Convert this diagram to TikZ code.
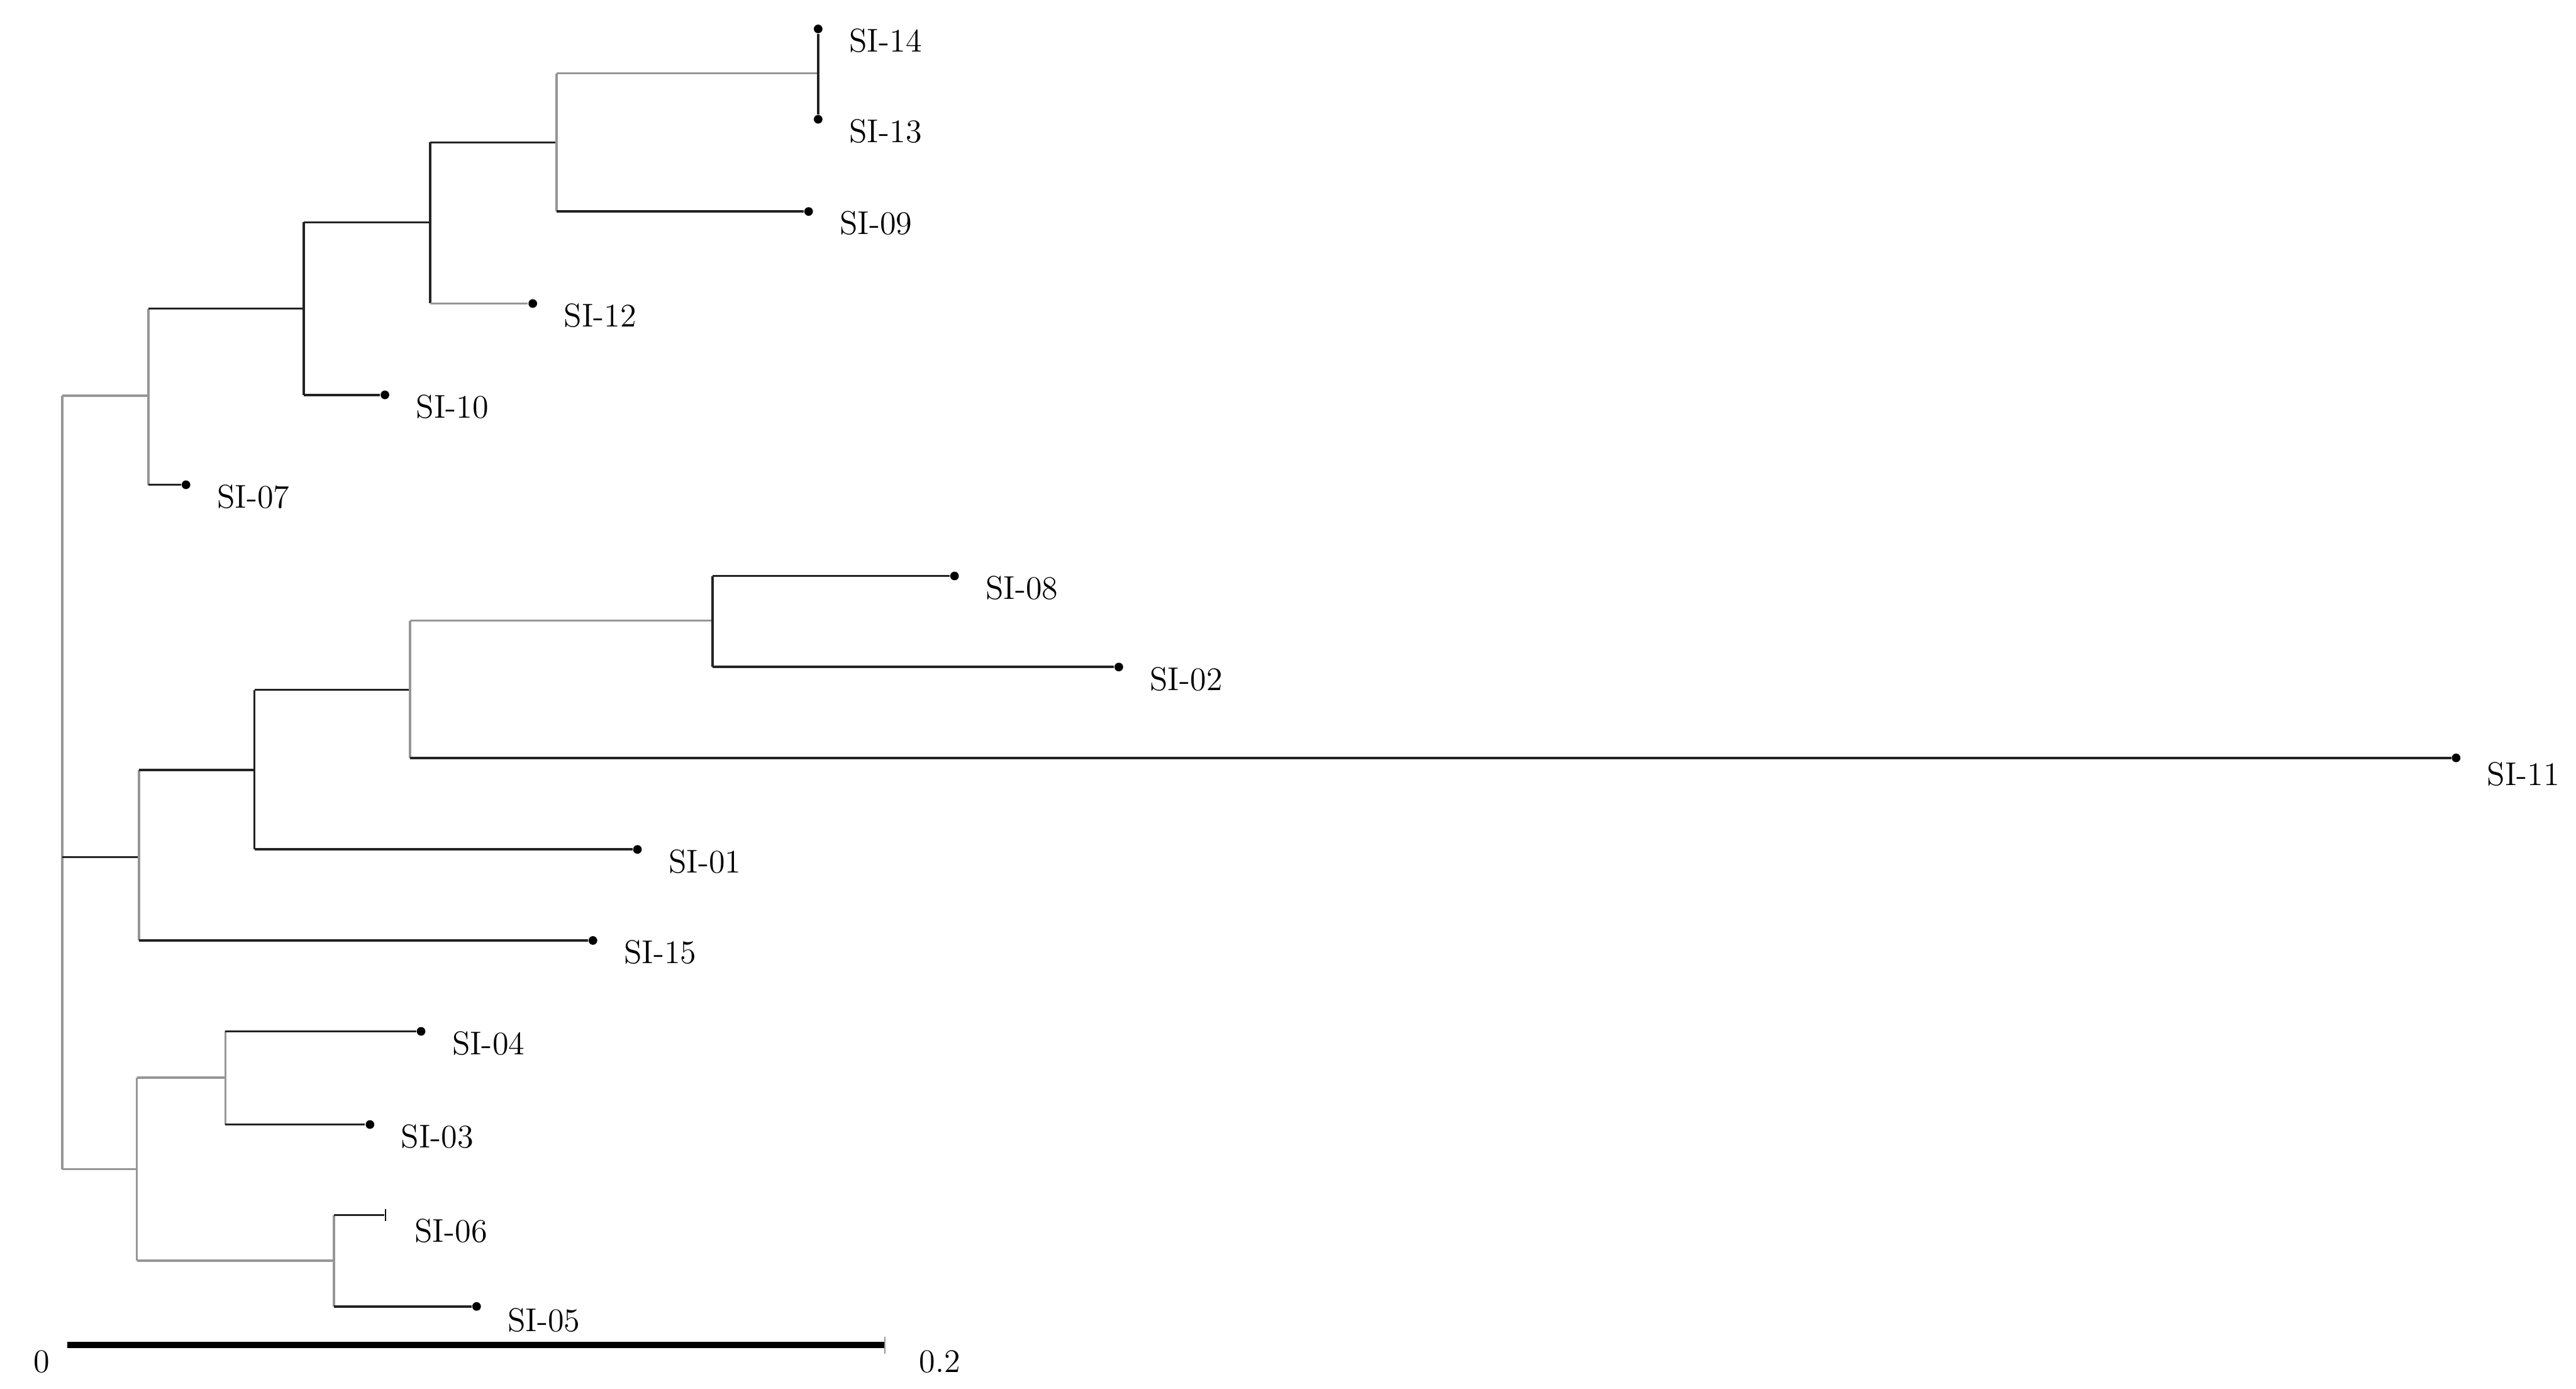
\documentclass[tikz,border=0pt]{standalone}
\usepackage{tikz}
\usetikzlibrary{positioning}
\definecolor{darkbr}{RGB}{35,35,35}
\definecolor{lightbr}{RGB}{150,150,150}

\begin{document}
\begin{tikzpicture}[
    x=0.02cm, y=-0.02cm,
    br/.style={draw=darkbr, line width=0.8pt},
    bl/.style={draw=lightbr, line width=0.8pt},
    leaf/.style={circle, fill=black, inner sep=0pt, minimum size=3pt},
    stub/.style={rectangle, fill=black, inner sep=0pt, minimum width=0.6pt, minimum height=4pt},
    lab/.style={inner sep=0pt, font=\fontsize{11.4}{13}\selectfont},
    bar/.style={line width=2.2pt, black}
  ]
  \useasboundingbox (0,0) rectangle (1568,845);

  \coordinate (root) at (38,521.6);
  \coordinate (nA) at (90.4,240.7);
  \coordinate (nB) at (184.8,187.8);
  \coordinate (nC) at (261.8,135.3);
  \coordinate (nD) at (338.9,86.7);
  \coordinate (nE) at (498,44.6);
  \coordinate (nF) at (84.5,521.6);
  \coordinate (nG) at (154.9,468.5);
  \coordinate (nH) at (249.6,419.8);
  \coordinate (nI) at (433.6,377.7);
  \coordinate (nJ) at (83.3,711.5);
  \coordinate (nK) at (137.2,655.8);
  \coordinate (nL) at (203.2,767.2);

  \node[leaf] (t14) at (498,17.6) {};
  \node[leaf] (t13) at (498,72.6) {};
  \node[leaf] (t09) at (492.2,128.7) {};
  \node[leaf] (t12) at (324.3,184.7) {};
  \node[leaf] (t10) at (234.3,240.3) {};
  \node[leaf] (t07) at (113.2,295) {};
  \node[leaf] (t08) at (581,350.5) {};
  \node[leaf] (t02) at (681,405.9) {};
  \node[leaf] (t11) at (1495,461.2) {};
  \node[leaf] (t01) at (388,516.9) {};
  \node[leaf] (t15) at (360.9,572.3) {};
  \node[leaf] (t04) at (256.3,627.6) {};
  \node[leaf] (t03) at (225.2,684.3) {};
  \node[stub] (t06) at (234.7,739.4) {};
  \node[leaf] (t05) at (290.1,795) {};

  \node[lab, below right=-0.05cm and 0.33cm of t14] (l14) {SI-14};
  \node[lab, below right=-0.05cm and 0.33cm of t13] (l13) {SI-13};
  \node[lab, below right=-0.05cm and 0.33cm of t09] (l09) {SI-09};
  \node[lab, below right=-0.05cm and 0.33cm of t12] (l12) {SI-12};
  \node[lab, below right=-0.05cm and 0.33cm of t10] (l10) {SI-10};
  \node[lab, below right=-0.05cm and 0.33cm of t07] (l07) {SI-07};
  \node[lab, below right=-0.05cm and 0.33cm of t08] (l08) {SI-08};
  \node[lab, below right=-0.05cm and 0.33cm of t02] (l02) {SI-02};
  \node[lab, below right=0cm and 0.33cm of t11] (l11) {SI-11};
  \node[lab, below right=-0.05cm and 0.33cm of t01] (l01) {SI-01};
  \node[lab, below right=-0.05cm and 0.33cm of t15] (l15) {SI-15};
  \node[lab, below right=-0.05cm and 0.33cm of t04] (l04) {SI-04};
  \node[lab, below right=-0.05cm and 0.33cm of t03] (l03) {SI-03};
  \node[lab, below right=-0.04cm and 0.33cm of t06] (l06) {SI-06};
  \node[lab, below right=-0.03cm and 0.33cm of t05] (l05) {SI-05};

  \draw[bl] (root |- nA) -- (root |- nJ);
  \draw[bl] (root |- nA) -- (nA);
  \draw[br] (root) -- (nF);
  \draw[bl] (root |- nJ) -- (nJ);

  \draw[bl] (nA |- nB) -- (nA |- t07);
  \draw[br] (nA |- nB) -- (nB);
  \draw[br] (nA |- t07) -- (t07);

  \draw[br] (nB |- nC) -- (nB |- t10);
  \draw[br] (nB |- nC) -- (nC);
  \draw[br] (nB |- t10) -- (t10);

  \draw[br] (nC |- nD) -- (nC |- t12);
  \draw[br] (nC |- nD) -- (nD);
  \draw[bl] (nC |- t12) -- (t12);

  \draw[bl] (nD |- nE) -- (nD |- t09);
  \draw[bl] (nD |- nE) -- (nE);
  \draw[br] (nD |- t09) -- (t09);

  \draw[br] (t14) -- (t13);

  \draw[bl] (nF |- nG) -- (nF |- t15);
  \draw[br] (nF |- nG) -- (nG);
  \draw[br] (nF |- t15) -- (t15);

  \draw[br] (nG |- nH) -- (nG |- t01);
  \draw[br] (nG |- nH) -- (nH);
  \draw[br] (nG |- t01) -- (t01);

  \draw[bl] (nH |- nI) -- (nH |- t11);
  \draw[bl] (nH |- nI) -- (nI);
  \draw[br] (nH |- t11) -- (t11);

  \draw[br] (nI |- t08) -- (nI |- t02);
  \draw[br] (nI |- t08) -- (t08);
  \draw[br] (nI |- t02) -- (t02);

  \draw[bl] (nJ |- nK) -- (nJ |- nL);
  \draw[bl] (nJ |- nK) -- (nK);
  \draw[bl] (nJ |- nL) -- (nL);

  \draw[bl] (nK |- t04) -- (nK |- t03);
  \draw[br] (nK |- t04) -- (t04);
  \draw[br] (nK |- t03) -- (t03);

  \draw[bl] (nL |- t06) -- (nL |- t05);
  \draw[br] (nL |- t06) -- (t06);
  \draw[br] (nL |- t05) -- (t05);

  \coordinate (s0) at (40.9,818.6);
  \coordinate (s2) at (538.5,818.6);
  \draw[bar] (s0) -- (s2);
  \draw[lightbr, line width=0.4pt] ([yshift=3pt]s2) -- ([yshift=-3pt]s2);
  \node[lab] (z0) at (25.5,828.5) {0};
  \node[lab] (z2) at (572,828.5) {0.2};
\end{tikzpicture}
\end{document}
